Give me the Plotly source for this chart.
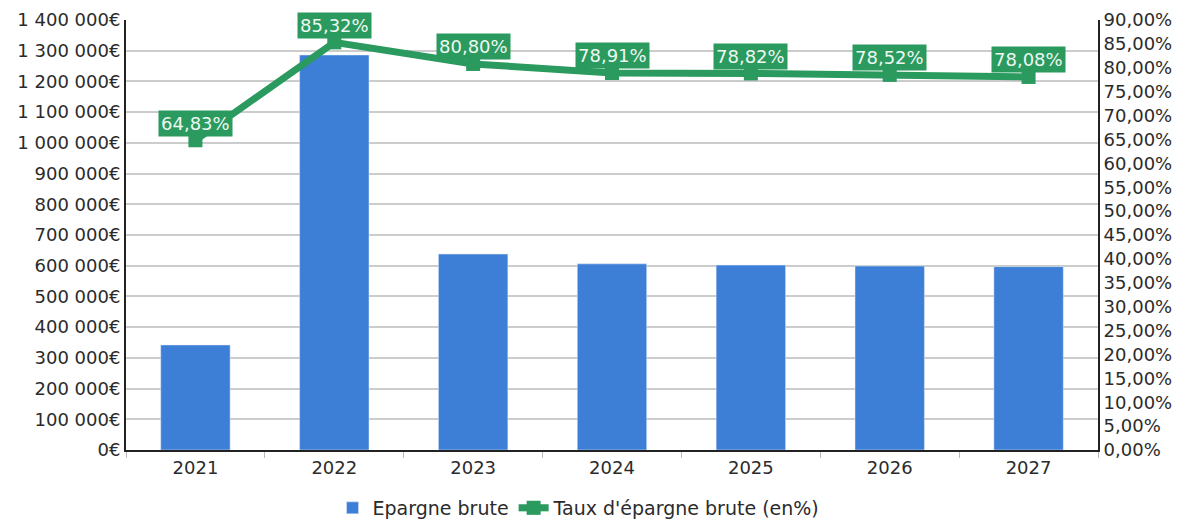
import plotly.graph_objects as go

years = ["2021", "2022", "2023", "2024", "2025", "2026", "2027"]
epargne = [342000, 1286000, 638000, 606000, 602000, 599000, 597000]
taux = [64.83, 85.32, 80.80, 78.91, 78.82, 78.52, 78.08]
taux_labels = ["64,83%", "85,32%", "80,80%", "78,91%", "78,82%", "78,52%", "78,08%"]

left_vals = [i * 100000 for i in range(15)]
left_text = ["0€", "100 000€", "200 000€", "300 000€", "400 000€", "500 000€", "600 000€",
             "700 000€", "800 000€", "900 000€", "1 000 000€", "1 100 000€", "1 200 000€",
             "1 300 000€", "1 400 000€"]
right_vals = [i * 5 for i in range(19)]
right_text = ["0,00%", "5,00%", "10,00%", "15,00%", "20,00%", "25,00%", "30,00%", "35,00%",
              "40,00%", "45,00%", "50,00%", "55,00%", "60,00%", "65,00%", "70,00%", "75,00%",
              "80,00%", "85,00%", "90,00%"]

BLUE = "#3d7fd6"
GREEN = "#2a9a5f"
FONT = "DejaVu Sans"
TXT = "#2b2b2b"

fig = go.Figure()
fig.add_trace(go.Bar(x=years, y=epargne, name="Epargne brute", marker_color=BLUE,
                     width=0.5, yaxis="y"))
fig.add_trace(go.Scatter(x=years, y=taux, name="Taux d'épargne brute (en%)", mode="lines+markers",
                         line=dict(color=GREEN, width=7),
                         marker=dict(symbol="square", size=14, color=GREEN),
                         yaxis="y2"))

for i, (y, t) in enumerate(zip(taux, taux_labels)):
    fig.add_annotation(x=i, y=y, xref="x", yref="y2", text=t, showarrow=False,
                       yshift=17, bgcolor=GREEN, borderpad=2,
                       font=dict(family=FONT, size=18, color="#eef8f1"))

fig.update_layout(
    width=1189, height=527,
    margin=dict(l=126, r=91, t=20, b=77, autoexpand=False),
    paper_bgcolor="white", plot_bgcolor="white",
    font=dict(family=FONT, size=18, color=TXT),
    showlegend=True,
    legend=dict(orientation="h", x=0.487, xanchor="center", xref="container",
                y=0.0, yanchor="bottom", yref="container",
                font=dict(family=FONT, size=19, color=TXT),
                traceorder="normal", bgcolor="rgba(0,0,0,0)"),
    xaxis=dict(type="category", range=[-0.5, 6.5], showline=True, linecolor="#222222", linewidth=2,
               ticks="outside", tickson="boundaries", tickcolor="#bbbbbb", ticklen=6,
               showgrid=False, tickfont=dict(size=18, color=TXT)),
    yaxis=dict(range=[0, 1400000], tickvals=left_vals, ticktext=left_text,
               showline=True, linecolor="#222222", linewidth=2,
               showgrid=True, gridcolor="#cccccc", gridwidth=2, zeroline=False,
               tickfont=dict(size=18, color=TXT)),
    yaxis2=dict(range=[0, 90], tickvals=right_vals, ticktext=right_text,
                overlaying="y", side="right", showline=True, linecolor="#222222", linewidth=2,
                showgrid=False, zeroline=False, tickfont=dict(size=18, color=TXT)),
)

fig.write_html("out.html")
